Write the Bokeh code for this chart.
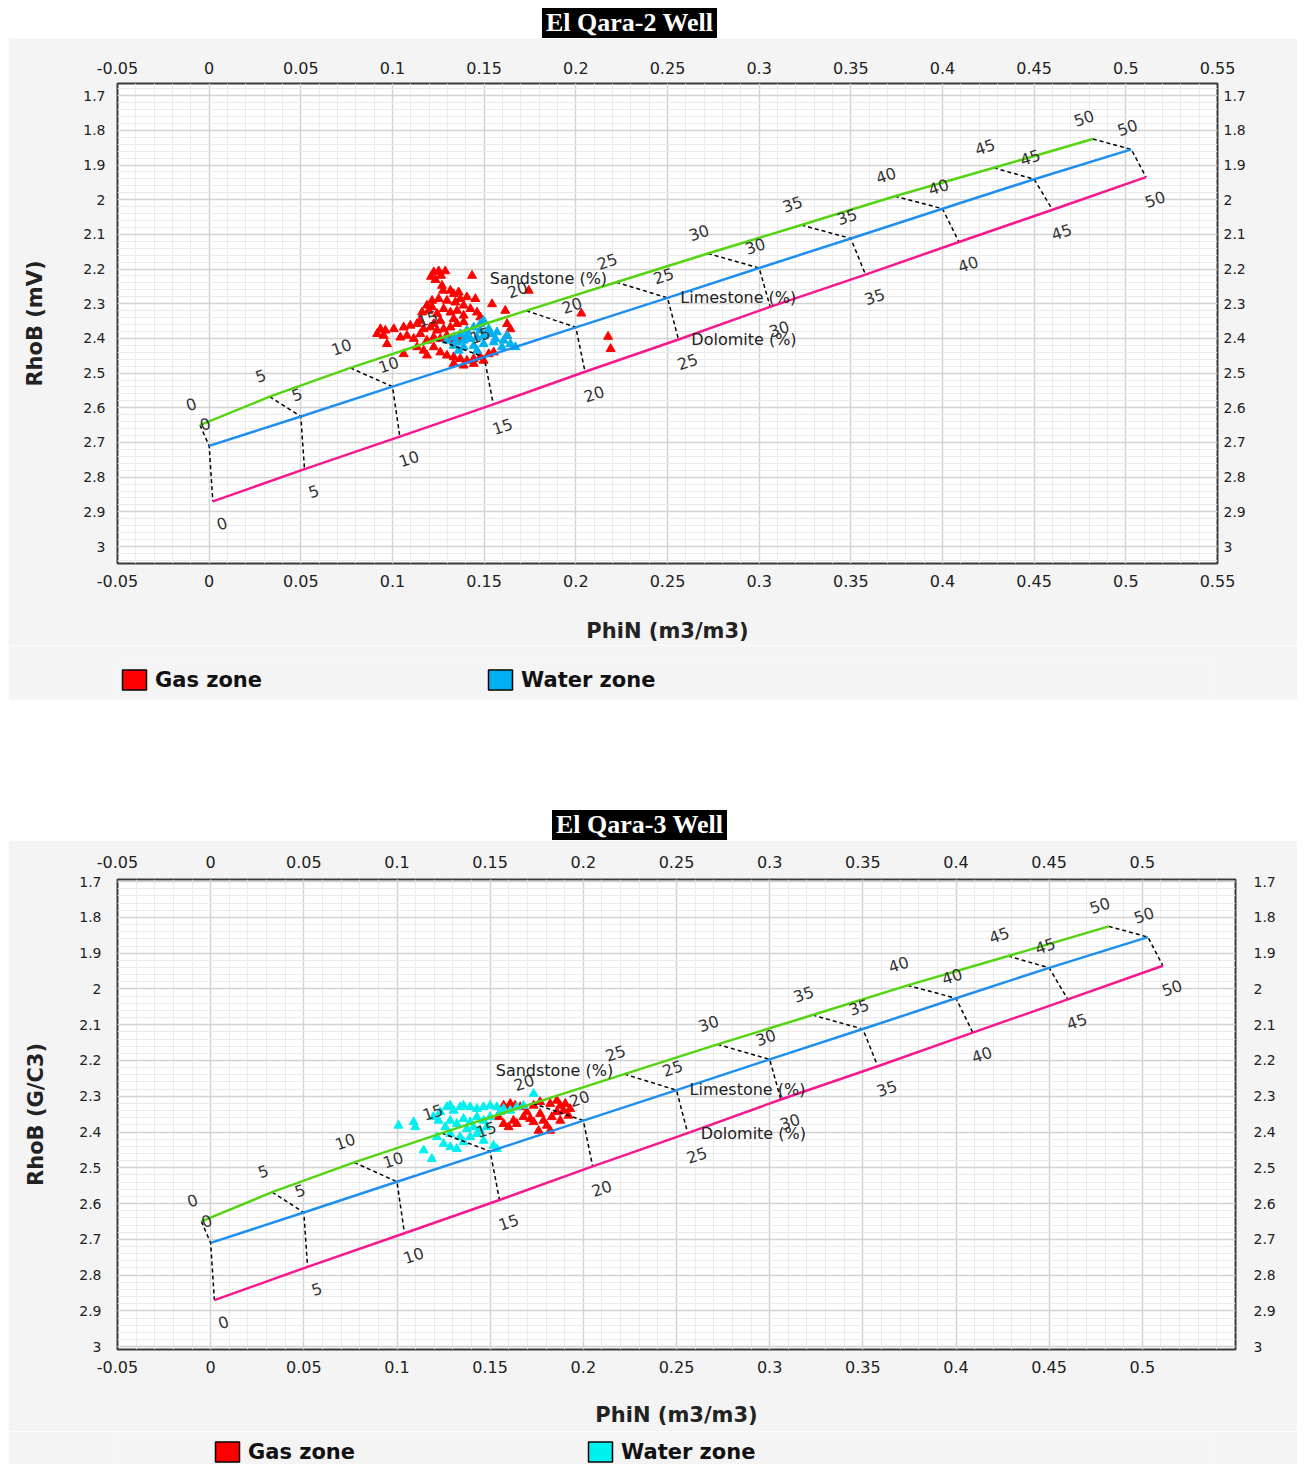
from bokeh.plotting import figure
from bokeh.models import Range1d, LinearAxis, FixedTicker, Legend, LegendItem, Div
from bokeh.layouts import column
from bokeh.embed import file_html
from bokeh.resources import INLINE
from bokeh.core.properties import value

# ---------------- data ----------------
pct_labels = ["0", "5", "10", "15", "20", "25", "30", "35", "40", "45", "50"]

sand_phin = [-0.005, 0.033, 0.077, 0.124, 0.173, 0.222, 0.272, 0.323, 0.374, 0.428, 0.482]
sand_rhob = [2.650, 2.568, 2.485, 2.403, 2.320, 2.238, 2.155, 2.073, 1.990, 1.908, 1.825]
lime_phin = [0.000, 0.050, 0.100, 0.150, 0.200, 0.250, 0.300, 0.350, 0.400, 0.450, 0.503]
lime_rhob = [2.710, 2.625, 2.539, 2.454, 2.368, 2.283, 2.197, 2.112, 2.026, 1.941, 1.855]
dolo_phin = [0.002, 0.052, 0.104, 0.155, 0.205, 0.256, 0.306, 0.358, 0.409, 0.460, 0.511]
dolo_rhob = [2.870, 2.777, 2.683, 2.590, 2.496, 2.403, 2.309, 2.216, 2.122, 2.029, 1.935]

litho_names = ["Sandstone (%)", "Limestone (%)", "Dolomite (%)"]
litho_x = [0.153, 0.257, 0.263]
litho_y = [2.227, 2.282, 2.404]

legend_labels = ["Gas zone", "Water zone"]

x_ticks_top = [-0.05, 0.0, 0.05, 0.1, 0.15, 0.2, 0.25, 0.3, 0.35, 0.4, 0.45, 0.5, 0.55]
x_labels_top = ["-0.05", "0", "0.05", "0.1", "0.15", "0.2", "0.25", "0.3", "0.35", "0.4", "0.45", "0.5", "0.55"]
x_ticks_bot = [-0.05, 0.0, 0.05, 0.1, 0.15, 0.2, 0.25, 0.3, 0.35, 0.4, 0.45, 0.5]
x_labels_bot = ["-0.05", "0", "0.05", "0.1", "0.15", "0.2", "0.25", "0.3", "0.35", "0.4", "0.45", "0.5"]
y_ticks = [1.7, 1.8, 1.9, 2.0, 2.1, 2.2, 2.3, 2.4, 2.5, 2.6, 2.7, 2.8, 2.9, 3.0]
y_labels = ["1.7", "1.8", "1.9", "2", "2.1", "2.2", "2.3", "2.4", "2.5", "2.6", "2.7", "2.8", "2.9", "3"]

# El Qara-2 well
gas2_phin = [0.1225, 0.1252, 0.1288, 0.1210, 0.1234, 0.1265, 0.1434, 0.1270, 0.1276, 0.1316,
             0.1334, 0.1361, 0.1743, 0.1188, 0.1216, 0.1252, 0.1297, 0.1343, 0.1370, 0.1388,
             0.1406, 0.1452, 0.1543, 0.1216, 0.1161, 0.1197, 0.1243, 0.1279, 0.1316, 0.1352,
             0.1388, 0.1425, 0.1461, 0.1479, 0.1334, 0.1261, 0.1152, 0.1615, 0.0934, 0.0961,
             0.1007, 0.1061, 0.1097, 0.1134, 0.1170, 0.1207, 0.1243, 0.1279, 0.1316, 0.1352,
             0.1388, 0.1625, 0.1643, 0.1225, 0.0916, 0.0952, 0.1043, 0.1079, 0.1116, 0.1152,
             0.1188, 0.1225, 0.1261, 0.1297, 0.1334, 0.1370, 0.0970, 0.1061, 0.1625, 0.1170,
             0.1225, 0.1261, 0.1297, 0.1334, 0.1370, 0.1406, 0.1443, 0.1479, 0.1525, 0.1552,
             0.1334, 0.1388, 0.1443, 0.1497, 0.1134, 0.1188, 0.2030, 0.2176, 0.2190]
gas2_rhob = [2.209, 2.206, 2.206, 2.222, 2.231, 2.219, 2.219, 2.248, 2.262, 2.262,
             2.272, 2.267, 2.262, 2.305, 2.291, 2.286, 2.291, 2.296, 2.286, 2.305,
             2.281, 2.286, 2.301, 2.310, 2.325, 2.320, 2.329, 2.315, 2.325, 2.320,
             2.334, 2.315, 2.325, 2.339, 2.344, 2.349, 2.349, 2.320, 2.373, 2.377,
             2.373, 2.368, 2.363, 2.358, 2.373, 2.368, 2.377, 2.373, 2.368, 2.358,
             2.353, 2.358, 2.373, 2.358, 2.387, 2.392, 2.397, 2.392, 2.401, 2.387,
             2.406, 2.397, 2.401, 2.392, 2.406, 2.401, 2.416, 2.445, 2.392, 2.435,
             2.425, 2.440, 2.449, 2.454, 2.459, 2.464, 2.459, 2.454, 2.445, 2.440,
             2.473, 2.478, 2.473, 2.464, 2.425, 2.449, 2.328, 2.395, 2.430]
water2_phin = [0.1297, 0.1334, 0.1370, 0.1406, 0.1443, 0.1479, 0.1497, 0.1352, 0.1388, 0.1425,
               0.1461, 0.1497, 0.1534, 0.1570, 0.1388, 0.1443, 0.1497, 0.1552, 0.1606, 0.1643,
               0.1670, 0.1334, 0.1406, 0.1479, 0.1525, 0.1561, 0.1625, 0.1597, 0.1461, 0.1361]
water2_rhob = [2.406, 2.397, 2.387, 2.377, 2.368, 2.358, 2.349, 2.411, 2.406, 2.401,
               2.397, 2.392, 2.387, 2.382, 2.425, 2.421, 2.416, 2.411, 2.406, 2.416,
               2.425, 2.421, 2.392, 2.377, 2.373, 2.401, 2.392, 2.425, 2.435, 2.435]

# El Qara-3 well
gas3_phin = [0.1545, 0.1554, 0.1572, 0.1590, 0.1608, 0.1634, 0.1661, 0.1572, 0.1599, 0.1625,
             0.1643, 0.1679, 0.1697, 0.1715, 0.1733, 0.1760, 0.1768, 0.1786, 0.1804, 0.1822,
             0.1831, 0.1858, 0.1876, 0.1894, 0.1920, 0.1929, 0.1822, 0.1876, 0.1903, 0.1768,
             0.1858, 0.1733]
gas3_rhob = [2.358, 2.344, 2.326, 2.335, 2.321, 2.326, 2.330, 2.377, 2.386, 2.368,
             2.377, 2.358, 2.344, 2.363, 2.372, 2.396, 2.349, 2.368, 2.382, 2.321,
             2.358, 2.344, 2.326, 2.340, 2.354, 2.335, 2.396, 2.368, 2.321, 2.316,
             2.312, 2.326]
water3_phin = [0.1008, 0.1089, 0.1098, 0.1143, 0.1187, 0.1196, 0.1232, 0.1268, 0.1286, 0.1304,
               0.1339, 0.1357, 0.1393, 0.1429, 0.1465, 0.1500, 0.1536, 0.1554, 0.1572, 0.1608,
               0.1643, 0.1679, 0.1733, 0.1223, 0.1259, 0.1286, 0.1321, 0.1357, 0.1393, 0.1429,
               0.1465, 0.1500, 0.1250, 0.1286, 0.1321, 0.1357, 0.1393, 0.1429, 0.1465, 0.1518,
               0.1536, 0.1375, 0.1411, 0.1447, 0.1482, 0.1286, 0.1339, 0.1214]
water3_rhob = [2.382, 2.372, 2.386, 2.451, 2.475, 2.358, 2.344, 2.330, 2.326, 2.340,
               2.330, 2.326, 2.330, 2.335, 2.330, 2.326, 2.330, 2.344, 2.335, 2.340,
               2.330, 2.326, 2.293, 2.368, 2.386, 2.368, 2.377, 2.363, 2.372, 2.358,
               2.368, 2.358, 2.433, 2.442, 2.447, 2.428, 2.414, 2.405, 2.424, 2.438,
               2.447, 2.391, 2.386, 2.396, 2.386, 2.405, 2.414, 2.414]

# ---------------- style ----------------
FONT = "DejaVu Sans"
SAND_C = "#55d411"
LIME_C = "#1e8fef"
DOLO_C = "#f7178f"
PANEL = "#f4f4f4"
NAN = float("nan")


def style_axis(ax, ticks, labels, standoff, size):
    ax.ticker = FixedTicker(ticks=ticks)
    ax.major_label_overrides = dict(zip(ticks, labels))
    ax.major_tick_line_color = None
    ax.minor_tick_line_color = None
    ax.major_tick_out = 0
    ax.major_tick_in = 0
    ax.minor_tick_out = 0
    ax.minor_tick_in = 0
    ax.axis_line_color = None
    ax.major_label_standoff = standoff
    ax.major_label_text_font = FONT
    ax.major_label_text_font_size = size
    ax.major_label_text_color = "#222222"
    ax.axis_label_text_font = FONT
    ax.axis_label_text_font_style = "bold"
    ax.axis_label_text_font_size = "21px"
    ax.axis_label_text_color = "#222222"


def build(cfg):
    p = figure(frame_width=cfg["fw"], frame_height=cfg["fh"],
               x_range=Range1d(-0.05, 0.55), y_range=Range1d(cfg["ybot"], cfg["ytop"]),
               output_backend="svg", toolbar_location=None,
               min_border_left=cfg["bl"], min_border_right=cfg["br"],
               min_border_top=cfg["bt"], min_border_bottom=cfg["bb"],
               border_fill_color=PANEL, background_fill_color="white",
               outline_line_color="#3a3a3a", outline_line_width=2)
    p.margin = (0, 0, 0, 0)

    xt, xl = cfg["xticks"], cfg["xlabels"]
    bx = p.xaxis[0]
    style_axis(bx, xt, xl, cfg["s_bottom"], "16px")
    bx.axis_label = "PhiN (m3/m3)"
    bx.axis_label_standoff = cfg["ls_bottom"]
    ly = p.yaxis[0]
    style_axis(ly, y_ticks, y_labels, cfg["s_left"], "14px")
    ly.axis_label = cfg["ylabel"]
    ly.axis_label_standoff = cfg["ls_left"]
    tx = LinearAxis()
    style_axis(tx, xt, xl, cfg["s_top"], "16px")
    p.add_layout(tx, "above")
    ry = LinearAxis()
    style_axis(ry, y_ticks, y_labels, cfg["s_right"], "14px")
    p.add_layout(ry, "right")

    # grids
    x_minor = [round(-0.05 + 0.01 * i, 2) for i in range(61)]
    y_minor = [round(1.66 + 0.02 * i, 2) for i in range(71)]
    p.xgrid.ticker = FixedTicker(ticks=x_ticks_top, minor_ticks=x_minor)
    p.ygrid.ticker = FixedTicker(ticks=y_ticks, minor_ticks=y_minor)
    for g in (p.xgrid[0], p.ygrid[0]):
        g.grid_line_color = "#d2d2d2"
        g.grid_line_width = 1.5
        g.minor_grid_line_color = "#ebebeb"
        g.minor_grid_line_width = 1

    # scatter data
    p.scatter(cfg["gx"], cfg["gy"], marker="triangle", size=9,
              fill_color="#ff0000", line_color="#ff0000")
    p.scatter(cfg["wx"], cfg["wy"], marker="triangle", size=9,
              fill_color=cfg["wcolor"], line_color=cfg["wcolor"])

    # connectors
    xs = [[a, b, c] for a, b, c in zip(sand_phin, lime_phin, dolo_phin)]
    ys = [[a, b, c] for a, b, c in zip(sand_rhob, lime_rhob, dolo_rhob)]
    p.multi_line(xs, ys, line_color="black", line_dash="4 3", line_width=1.5)

    # lithology lines
    p.line(sand_phin, sand_rhob, line_color=SAND_C, line_width=2.5)
    p.line(lime_phin, lime_rhob, line_color=LIME_C, line_width=2.5)
    p.line(dolo_phin, dolo_rhob, line_color=DOLO_C, line_width=2.5)

    # percent labels
    common = dict(angle=0.33, text_align="center", text_baseline="middle",
                  text_font=value(FONT), text_font_size="16px", text_color="#333333")
    p.text(sand_phin, sand_rhob, text=pct_labels, x_offset=-9, y_offset=-21, **common)
    p.text(lime_phin, lime_rhob, text=pct_labels, x_offset=-4, y_offset=-22, **common)
    p.text(dolo_phin, dolo_rhob, text=pct_labels, x_offset=9, y_offset=22, **common)

    p.text(litho_x, litho_y, text=litho_names, text_align="left", text_baseline="middle",
           text_font=value(FONT), text_font_size="16px", text_color="#222222")

    # legend strip (separate small figure below the chart)
    lf = figure(width=1289, height=cfg["lh"], x_range=Range1d(0, 1), y_range=Range1d(0, 1),
                output_backend="svg", toolbar_location=None,
                x_axis_location=None, y_axis_location=None,
                min_border_left=cfg["lbl"], min_border_right=0,
                min_border_top=cfg["lbt"], min_border_bottom=0,
                border_fill_color=PANEL, background_fill_color=PANEL,
                outline_line_color=None)
    lf.margin = (0, 0, 0, 0)
    lf.grid.visible = False
    rg = lf.quad(left=[NAN], right=[NAN], top=[NAN], bottom=[NAN], fill_color="#ff0000",
                 line_color="black", line_width=1.5)
    rw = lf.quad(left=[NAN], right=[NAN], top=[NAN], bottom=[NAN], fill_color=cfg["wcolor"],
                 line_color="black", line_width=1.5)
    legend = Legend(items=[LegendItem(label=legend_labels[0], renderers=[rg]),
                           LegendItem(label=legend_labels[1], renderers=[rw])],
                    location=cfg["legloc"], orientation="horizontal",
                    glyph_width=30, glyph_height=25, label_standoff=6,
                    spacing=cfg["legspace"], padding=0, margin=0,
                    background_fill_alpha=0, border_line_color=None,
                    label_text_font=FONT, label_text_font_style="bold",
                    label_text_font_size="21px", label_text_color="#111111")
    lf.add_layout(legend)
    return p, lf


def title_div(text, left, top_margin):
    html = ('<div style="margin-left:%dpx;display:inline-block;height:30px;box-sizing:border-box;'
            'background:#000;color:#fff;font-family:\'Liberation Serif\';font-weight:bold;'
            'font-size:26px;line-height:30px;padding:0 4px;white-space:nowrap">%s</div>'
            % (left, text))
    return Div(text=html, width=1289, height=30, margin=(top_margin, 0, 0, 0))


cfg_top = dict(fw=1100, fh=480, ybot=3.049, ytop=1.665, bl=107, br=82, bt=45, bb=82,
               xticks=x_ticks_top, xlabels=x_labels_top,
               s_bottom=11, ls_bottom=29, s_left=12, ls_left=33, s_top=10, s_right=6,
               ylabel="RhoB (mV)", gx=gas2_phin, gy=gas2_rhob, wx=water2_phin, wy=water2_rhob,
               wcolor="#00b0f0", lh=55, lbl=12, lbt=16, legloc=(2, 8), legspace=223)
cfg_bot = dict(fw=1118, fh=470, ybot=3.008, ytop=1.694, bl=109, br=62, bt=39, bb=82,
               xticks=x_ticks_bot, xlabels=x_labels_bot,
               s_bottom=11, ls_bottom=27, s_left=16, ls_left=28, s_top=12, s_right=18,
               ylabel="RhoB (G/C3)", gx=gas3_phin, gy=gas3_rhob, wx=water3_phin, wy=water3_rhob,
               wcolor="#00f0f0", lh=33, lbl=62, lbt=4, legloc=(95, 0), legspace=230)

p1, l1 = build(cfg_top)
p2, l2 = build(cfg_bot)

layout = column(title_div("El Qara-2 Well", 534, 0), p1, l1,
                title_div("El Qara-3 Well", 544, 110), p2, l2, spacing=0, margin=(8, 0, 0, 8))

open("out.html", "w").write(file_html(layout, INLINE))
